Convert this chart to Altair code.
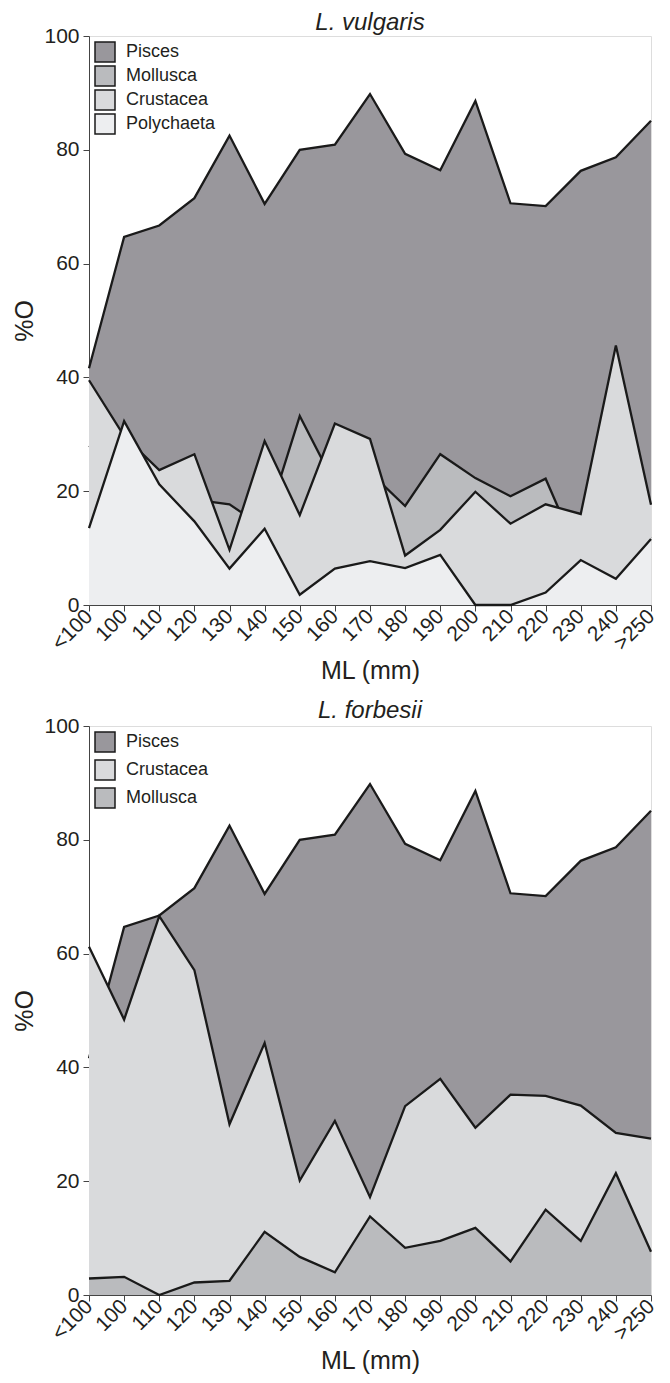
import altair as alt
import pandas as pd

cats = ["<100", "100", "110", "120", "130", "140", "150", "160", "170",
        "180", "190", "200", "210", "220", "230", "240", ">250"]

# L. vulgaris
pisces = [41.6, 64.7, 66.7, 71.5, 82.5, 70.5, 80.0, 80.9, 89.8, 79.3, 76.4, 88.6, 70.6, 70.1, 76.3, 78.7, 85.1]
mollusca_v = [28.0, 24.0, 20.0, 18.5, 17.7, 13.5, 33.2, 21.2, 23.3, 17.4, 26.5, 22.3, 19.1, 22.2, 8.0, 10.0, 12.0]
crustacea_v = [39.5, 29.7, 23.7, 26.5, 9.7, 28.8, 15.8, 31.9, 29.2, 8.7, 13.2, 19.9, 14.3, 17.7, 16.0, 45.6, 17.6]
polychaeta_v = [13.5, 32.3, 21.2, 14.7, 6.4, 13.4, 1.8, 6.4, 7.7, 6.5, 8.8, 0.0, 0.0, 2.2, 7.9, 4.6, 11.6]

# L. forbesii
pisces_f = [41.6, 64.7, 66.7, 71.5, 82.5, 70.5, 80.0, 80.9, 89.8, 79.3, 76.4, 88.6, 70.6, 70.1, 76.3, 78.7, 85.1]
crustacea_f = [61.2, 48.4, 66.6, 57.1, 30.0, 44.3, 20.1, 30.6, 17.2, 33.2, 38.0, 29.4, 35.2, 35.0, 33.3, 28.5, 27.5]
mollusca_f = [2.9, 3.2, 0.0, 2.2, 2.5, 11.1, 6.7, 4.0, 13.8, 8.3, 9.5, 11.8, 5.9, 15.0, 9.5, 21.4, 7.6]

COL = {"Pisces": "#99979c", "Mollusca": "#babbbe", "Crustacea": "#d9dadc", "Polychaeta": "#edeef0"}
FONT = "Liberation Sans"
INK = "#231f20"

xaxis = alt.Axis(labelAngle=-45, labelBaseline="middle", labelAlign="right", labelFontSize=21,
                 titleFontSize=25, tickSize=6,
                 domainColor="#444", tickColor="#444", labelColor=INK, titleColor=INK,
                 titleFontWeight="normal", labelPadding=2, titlePadding=5, grid=False,
                 labelFont=FONT, titleFont=FONT)
yaxis = alt.Axis(values=[0, 20, 40, 60, 80, 100], labelFontSize=21, titleFontSize=25, tickSize=6,
                 domainColor="#444", tickColor="#444", labelColor=INK, titleColor=INK,
                 titleFontWeight="normal", labelPadding=4, titlePadding=6, grid=False,
                 labelFont=FONT, titleFont=FONT)


def panel(title, order, values, row_pad, title_offset):
    layers = []
    for name in order:
        df = pd.DataFrame({"ML": cats, "value": values[name], "series": name})
        x = alt.X("ML:O", sort=cats, scale=alt.Scale(type="point", padding=0), axis=xaxis, title="ML (mm)")
        y = alt.Y("value:Q", scale=alt.Scale(domain=[0, 100]), axis=yaxis, title="%O", stack=None)
        area = alt.Chart(df).mark_area(opacity=1, strokeWidth=0).encode(
            x=x, y=y,
            color=alt.Color("series:N",
                            scale=alt.Scale(domain=order, range=[COL[s] for s in order]),
                            legend=alt.Legend(title=None, orient="top-left", offset=5, padding=0,
                                              symbolType="square", symbolSize=400,
                                              symbolStrokeColor="#1a1a1a", symbolStrokeWidth=1.5,
                                              symbolOpacity=1, labelFontSize=18, labelFont=FONT,
                                              labelColor=INK, rowPadding=row_pad, labelOffset=10)))
        line = alt.Chart(df).mark_line(color="#1a1a1a", strokeWidth=2.3).encode(x=x, y=y)
        layers += [area, line]
    return alt.layer(*layers).properties(
        width=562, height=569,
        title=alt.Title(title, fontStyle="italic", fontSize=24, font=FONT, fontWeight="normal",
                        color=INK, offset=title_offset))


top = panel("L. vulgaris", ["Pisces", "Mollusca", "Crustacea", "Polychaeta"],
            {"Pisces": pisces, "Mollusca": mollusca_v, "Crustacea": crustacea_v, "Polychaeta": polychaeta_v},
            -3, -10)
bottom = panel("L. forbesii", ["Pisces", "Crustacea", "Mollusca"],
               {"Pisces": pisces_f, "Crustacea": crustacea_f, "Mollusca": mollusca_f}, 2, -8)

chart = alt.vconcat(top, bottom, spacing=13,
                    padding={"left": 4, "top": 2, "right": 0, "bottom": 0}).resolve_scale(
    color="independent").resolve_legend(color="independent").configure_view(
    stroke="#666", strokeWidth=1).configure(font=FONT)

chart.save("out.html", embed_options={"renderer": "svg", "actions": False})
